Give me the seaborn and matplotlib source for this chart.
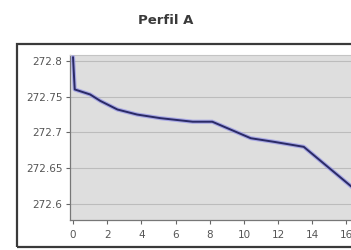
import matplotlib
matplotlib.use("Agg")
import matplotlib.pyplot as plt
import seaborn as sns
import pandas as pd
from matplotlib.patches import Rectangle

# data
distance = [0, 0.1, 1.0, 1.6, 2.6, 3.75, 5.1, 7.0, 8.15, 10.4, 11.75, 13.5, 16.47]
elevation = [272.805, 272.76, 272.753, 272.744, 272.732, 272.725, 272.72, 272.715,
             272.715, 272.692, 272.687, 272.68, 272.621]
x_ticks = [0, 2, 4, 6, 8, 10, 12, 14, 16]
y_ticks = [272.6, 272.65, 272.7, 272.75, 272.8]
y_tick_labels = ["272.6", "272.65", "272.7", "272.75", "272.8"]
title = "Perfil A"

df = pd.DataFrame({"d": distance, "z": elevation})

sns.set_style("white", {"axes.facecolor": "#dedede"})
plt.rcParams["font.family"] = ["DejaVu Sans"]

fig = plt.figure(figsize=(3.51, 2.5), dpi=100)
fig.patch.set_facecolor("white")

# outer frame
fig.patches.append(Rectangle((17 / 351, 3 / 250), 1.0, 203 / 250, transform=fig.transFigure,
                             fill=False, edgecolor="#3a3a3a", linewidth=1.6, zorder=0))

ax = fig.add_axes([70 / 351, 30 / 250, 1 - 70 / 351 + 0.01, 165 / 250])
ax.set_facecolor("#dedede")

sns.lineplot(data=df, x="d", y="z", ax=ax, sort=False, estimator=None,
             color="#9a9ae6", linewidth=3.0, alpha=0.8, zorder=3)
sns.lineplot(data=df, x="d", y="z", ax=ax, sort=False, estimator=None,
             color="#2a2a66", linewidth=1.4, zorder=4)

ax.set_xlim(-0.176, 16.47)
ax.set_ylim(272.578, 272.808)
ax.set_xticks(x_ticks)
ax.set_yticks(y_ticks)
ax.set_yticklabels(y_tick_labels)
ax.set_xlabel("")
ax.set_ylabel("")
ax.yaxis.grid(True, color="#bcbcbc", linewidth=0.8)
ax.set_axisbelow(True)

ax.tick_params(axis="both", which="major", direction="out", length=3, width=0.8,
               color="#666666", labelsize=7.5, labelcolor="#555555", pad=2.5,
               left=True, bottom=True)
ax.tick_params(axis="x", pad=4)

for side in ["left", "bottom"]:
    ax.spines[side].set_color("#777777")
    ax.spines[side].set_linewidth(0.9)
ax.spines["top"].set_color("#c4c4c4")
ax.spines["top"].set_linewidth(0.8)
ax.spines["right"].set_visible(False)

fig.text(166 / 351, 1 - 21 / 250, title, ha="center", va="center",
         fontsize=9.5, fontweight="bold", color="#3a3a3a")

fig.savefig("out.png", dpi=100, facecolor="white")
